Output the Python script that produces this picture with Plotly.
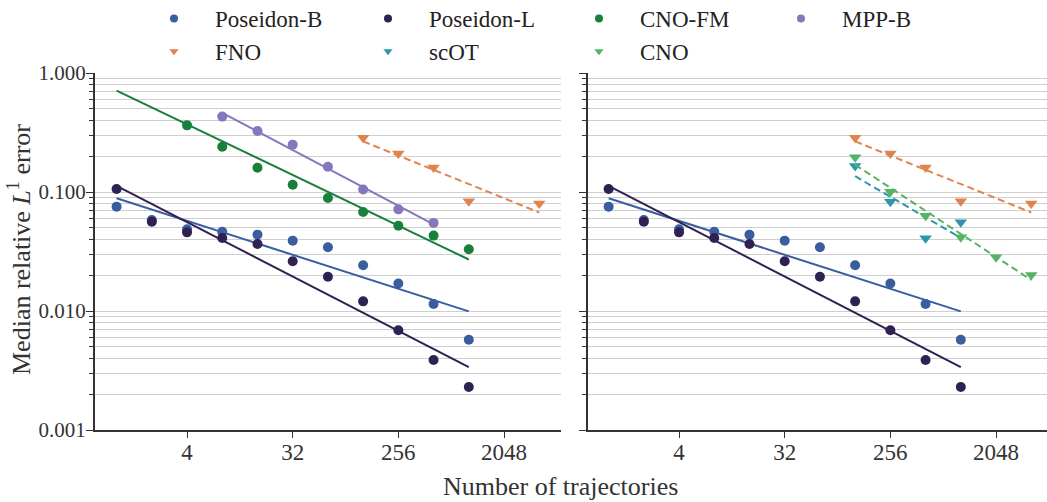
import numpy as np
import plotly.graph_objects as go

W, H = 1047, 502

# Training-set sizes (number of trajectories)
n_poseidon = [1, 2, 4, 8, 16, 32, 64, 128, 256, 512, 1024]
n_cnofm = [1, 4, 8, 16, 32, 64, 128, 256, 512, 1024]
n_mpp = [8, 16, 32, 64, 128, 256, 512]
n_fno = [128, 256, 512, 1024, 4096]
n_scot = [128, 256, 512, 1024]
n_cno = [128, 256, 512, 1024, 2048, 4096]

# Median relative L1 errors
err_poseidon_b = [0.0753, 0.0582, 0.0486, 0.0464, 0.0438, 0.0390, 0.0343, 0.0242, 0.0170, 0.01145, 0.00574]
err_poseidon_l = [0.106, 0.0563, 0.0458, 0.0410, 0.0366, 0.0262, 0.0194, 0.01205, 0.00689, 0.00388, 0.0023]
err_cnofm = [1.01, 0.363, 0.240, 0.160, 0.115, 0.089, 0.068, 0.052, 0.043, 0.033]
err_mpp = [0.430, 0.326, 0.250, 0.163, 0.105, 0.0715, 0.055]
err_fno = [0.286, 0.211, 0.161, 0.0835, 0.080]
err_scot = [0.1655, 0.083, 0.0408, 0.0556]
err_cno = [0.196, 0.1006, 0.0632, 0.0416, 0.0283, 0.0201]

x_ticks = [4, 32, 256, 2048]
y_ticks = [0.001, 0.01, 0.1, 1.0]
y_ticktext = ["0.001", "0.010", "0.100", "1.000"]

COLORS = {
    "Poseidon-B": "#3a5d9f",
    "Poseidon-L": "#2f2253",
    "CNO-FM": "#19803c",
    "MPP-B": "#8577bd",
    "FNO": "#e1834e",
    "scOT": "#2d97a9",
    "CNO": "#55b463",
}

FONT = "Liberation Serif"


def px_x(p):
    return p / W


def px_y(p):
    return 1 - p / H


def fit_line(n, e):
    lx = np.log2(np.asarray(n, float))
    ly = np.log10(np.asarray(e, float))
    k, b = np.polyfit(lx, ly, 1)
    xs = np.array([lx.min(), lx.max()])
    return 2 ** xs, 10 ** (k * xs + b)


fig = go.Figure()

series = [
    # name, n, err, symbol, dashed, panels
    ("Poseidon-B", n_poseidon, err_poseidon_b, "circle", False, (1, 2)),
    ("Poseidon-L", n_poseidon, err_poseidon_l, "circle", False, (1, 2)),
    ("CNO-FM", n_cnofm, err_cnofm, "circle", False, (1,)),
    ("MPP-B", n_mpp, err_mpp, "circle", False, (1,)),
    ("FNO", n_fno, err_fno, "triangle-down", True, (1, 2)),
    ("scOT", n_scot, err_scot, "triangle-down", True, (2,)),
    ("CNO", n_cno, err_cno, "triangle-down", True, (2,)),
]

for name, n, e, sym, dashed, panels in series:
    c = COLORS[name]
    fx, fy = fit_line(n, e)
    for p in panels:
        xa = "x" if p == 1 else "x2"
        ya = "y" if p == 1 else "y2"
        fig.add_trace(go.Scatter(
            x=fx, y=fy, mode="lines", xaxis=xa, yaxis=ya, showlegend=False,
            line=dict(color=c, width=2, dash="7px,4px" if dashed else "solid"),
            hoverinfo="skip"))
        fig.add_trace(go.Scatter(
            x=n, y=e, mode="markers", xaxis=xa, yaxis=ya, showlegend=False,
            name=name, cliponaxis=False,
            marker=dict(color=c, size=10 if sym == "circle" else 11, symbol=sym,
                        line=dict(width=0))))

# Legend: four columns, each a small vertical legend
columns = [["Poseidon-B", "FNO"], ["Poseidon-L", "scOT"], ["CNO-FM", "CNO"], ["MPP-B"]]
col_marker_x = [175, 389, 600, 802]
symbols = {s[0]: s[3] for s in series}
legend_layouts = {}
for ci, names in enumerate(columns):
    key = "legend" if ci == 0 else f"legend{ci + 1}"
    for nm in names:
        fig.add_trace(go.Scatter(
            x=[None], y=[None], mode="markers", name=nm, legend=key,
            legendgroup=nm, showlegend=True,
            marker=dict(color=COLORS[nm], size=8, symbol=symbols[nm], line=dict(width=0))))
    legend_layouts[key] = dict(
        x=px_x(col_marker_x[ci] - 42), xanchor="left",
        y=px_y(-3), yanchor="top",
        orientation="v", bgcolor="rgba(0,0,0,0)", borderwidth=0,
        font=dict(family=FONT, size=23, color="#222"),
        itemwidth=72, tracegroupgap=0, traceorder="normal")

axis_line = dict(showline=True, linecolor="#333333", linewidth=1.6, mirror=False,
                 zeroline=False)

minor_vals = [m * 10.0 ** d for d in (-3, -2, -1) for m in range(2, 10)]

xcommon = dict(type="log", tickvals=x_ticks, ticktext=[str(v) for v in x_ticks],
               ticks="outside", ticklen=6, tickwidth=1.3, tickcolor="#333333",
               showgrid=False, ticklabelstandoff=-5,
               tickfont=dict(family=FONT, size=23, color="#333"), **axis_line)
ycommon = dict(type="log", range=[-3, 0], tickvals=y_ticks,
               ticks="outside", ticklen=7, tickwidth=1.3, tickcolor="#333333",
               showgrid=True, gridcolor="#cfcfcf", gridwidth=1.3,
               minor=dict(tickmode="array", tickvals=minor_vals, ticks="outside",
                          ticklen=4, tickwidth=1.1, tickcolor="#333333",
                          showgrid=True, gridcolor="#cfcfcf", gridwidth=1.3),
               ticklabelstandoff=-4,
               tickfont=dict(family=FONT, size=21, color="#333"), **axis_line)

oct_px = 35.22
x1_left, x1_right = 116.6, 608.6


def log_range(x_left_px, x_right_px, x_one):
    a = (x_left_px - x_one) / oct_px * np.log10(2)
    b = (x_right_px - x_one) / oct_px * np.log10(2)
    return [a, b]


fig.update_layout(
    width=W, height=H,
    margin=dict(l=0, r=0, t=0, b=0, autoexpand=False),
    paper_bgcolor="white", plot_bgcolor="white",
    font=dict(family=FONT, color="#333"),
    xaxis=dict(domain=[px_x(94.7), px_x(561)], range=log_range(94.7, 561, x1_left),
               anchor="y", **xcommon),
    xaxis2=dict(domain=[px_x(587.7), 1.0], range=log_range(587.7, 1047, x1_right),
                anchor="y2", **xcommon),
    yaxis=dict(domain=[px_y(430), px_y(73)], anchor="x",
               ticktext=y_ticktext, **ycommon),
    yaxis2=dict(domain=[px_y(430), px_y(73)], anchor="x2", showticklabels=False,
                ticktext=y_ticktext, **ycommon),
    **legend_layouts,
    annotations=[
        dict(text="Number of trajectories", x=px_x(560), y=px_y(486),
             xref="paper", yref="paper", showarrow=False,
             xanchor="center", yanchor="middle",
             font=dict(family=FONT, size=26, color="#333")),
        dict(text="Median relative <i>L</i><sup>1</sup> error", x=px_x(19), y=px_y(250),
             xref="paper", yref="paper", showarrow=False, textangle=-90,
             xanchor="center", yanchor="middle",
             font=dict(family=FONT, size=26, color="#333")),
    ],
)

fig.write_html("out.html")
